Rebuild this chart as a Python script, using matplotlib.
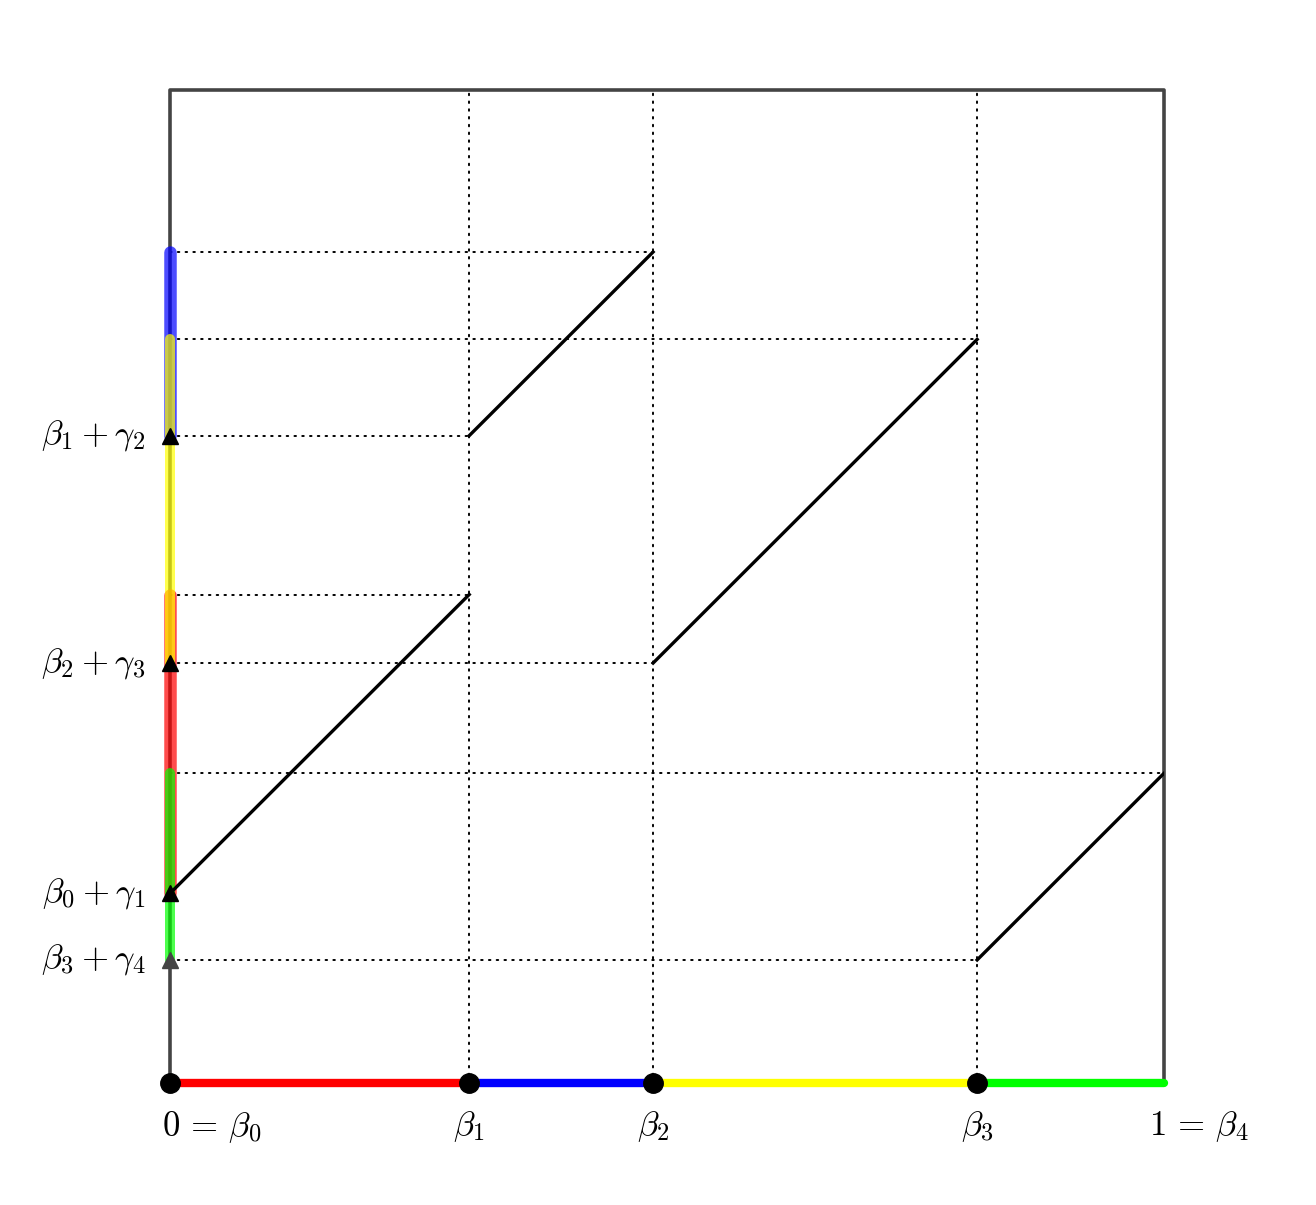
import matplotlib
matplotlib.use("Agg")
import matplotlib.pyplot as plt

plt.rcParams['mathtext.fontset'] = 'cm'

# Partition points on [0, 1]
betas = [0.0, 0.301, 0.486, 0.812, 1.0]
# Start heights beta_{i-1} + gamma_i of each slope-1 piece
starts = [0.191, 0.652, 0.423, 0.124]
colors = ['#ff0000', '#0000ff', '#ffff00', '#00ff00']
x_labels = [r'$0\,=\,\beta_0$', r'$\beta_1$', r'$\beta_2$', r'$\beta_3$', r'$1\,=\,\beta_4$']
y_labels = [r'$\beta_0+\gamma_1$', r'$\beta_1+\gamma_2$', r'$\beta_2+\gamma_3$', r'$\beta_3+\gamma_4$']
tri_colors = ['black', 'black', 'black', '#444444']

fig = plt.figure(figsize=(13.16, 12.05), dpi=100)
ax = fig.add_axes([0.1292, 0.1012, 0.7553, 0.824])
ax.set_xlim(0, 1)
ax.set_ylim(0, 1)
ax.axis('off')

dots = dict(color='black', lw=1.4, linestyle=(0, (0.8, 3.2)), dash_capstyle='round', zorder=1)

# vertical guides at interior breakpoints
for b in betas[1:-1]:
    ax.plot([b, b], [0, 1], **dots)

# horizontal guides to both ends of each piece
for i, s in enumerate(starts):
    x0, x1 = betas[i], betas[i + 1]
    e = s + (x1 - x0)
    ax.plot([0, x0], [s, s], **dots)
    ax.plot([0, x1], [e, e], **dots)

# frame
ax.plot([0, 0, 1, 1], [0, 1, 1, 0], color='#444444', lw=2.6, zorder=2, clip_on=False)

# images of the pieces on the vertical axis
widths = [9.0, 9.0, 7.2, 7.2]
for i, s in enumerate(starts):
    e = s + (betas[i + 1] - betas[i])
    ax.plot([0, 0], [s, e], color=colors[i], alpha=0.7, lw=widths[i],
            solid_capstyle='round', zorder=3, clip_on=False)

# pieces on the horizontal axis
for i in range(4):
    ax.plot([betas[i], betas[i + 1]], [0, 0], color=colors[i], lw=6,
            solid_capstyle='round', zorder=4, clip_on=False)

# the map itself
for i, s in enumerate(starts):
    x0, x1 = betas[i], betas[i + 1]
    ax.plot([x0, x1], [s, s + (x1 - x0)], color='black', lw=2.4, zorder=5)

ax.plot(betas[:-1], [0] * 4, 'o', color='black', ms=14, zorder=6, clip_on=False)
for s, c in zip(starts, tri_colors):
    ax.plot([0], [s], '^', color=c, ms=12, zorder=6, clip_on=False)

# labels
for i, (b, lab) in enumerate(zip(betas, x_labels)):
    if i == 0:
        ax.text(b - 0.008, -0.026, lab, ha='left', va='top', fontsize=25)
    elif i == len(betas) - 1:
        ax.text(b - 0.015, -0.026, lab, ha='left', va='top', fontsize=25)
    else:
        ax.text(b, -0.026, lab, ha='center', va='top', fontsize=25)

for s, lab in zip(starts, y_labels):
    ax.text(-0.025, s, lab, ha='right', va='center', fontsize=25)

fig.savefig('out.png', dpi=100)
